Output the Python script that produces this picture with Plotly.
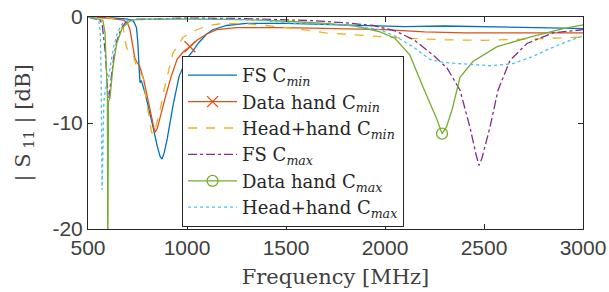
import numpy as np
import plotly.graph_objects as go

# ---- data (frequency in MHz, |S11| in dB) ----
fs_cmin_f = [500, 600, 700, 730, 745, 752, 758, 763, 768, 773, 790, 810, 830, 850, 865, 874, 885, 900, 930, 960,
             1000, 1030, 1060, 1100, 1130, 1200, 1300, 1500, 1700, 1900, 2100, 2300, 2500, 2700, 2900, 3000]
fs_cmin_db = [0, -0.05, -0.2, -0.4, -1.0, -2.5, -4.8, -6.2, -6.0, -6.2, -7.3, -8.8, -10.5, -12.2, -13.2, -13.4, -12.8,
              -11.5, -8.3, -5.6, -3.9, -3.2, -2.4, -1.6, -1.2, -0.8, -0.6, -0.6, -0.7, -0.8, -0.9, -0.85, -0.9, -1.0,
              -1.05, -1.1]

dh_cmin_f = [500, 600, 680, 700, 712, 725, 737, 745, 760, 780, 800, 820, 838, 850, 870, 890, 920, 950, 980, 1015,
             1050, 1100, 1150, 1250, 1500, 1800, 2000, 2200, 2400, 2600, 2800, 3000]
dh_cmin_db = [0, -0.1, -0.3, -0.6, -1.2, -2.5, -3.9, -4.2, -4.6, -5.8, -7.5, -9.5, -10.9, -10.5, -9.0, -7.6, -5.6,
              -4.0, -3.3, -2.8, -2.2, -1.6, -1.2, -1.0, -1.0, -1.1, -1.2, -1.4, -1.5, -1.5, -1.5, -1.5]
dh_cmin_marker_f = [1015]

hh_cmin_f = [500, 600, 660, 677, 690, 702, 715, 728, 745, 778, 803, 820, 828, 840, 864, 880, 899, 929, 960, 980,
             1050, 1100, 1180, 1300, 1400, 1550, 1700, 1900, 2100, 2300, 2500, 2700, 2900, 3000]
hh_cmin_db = [0, -0.05, -0.3, -0.9, -2.5, -3.3, -3.4, -3.6, -4.6, -5.7, -8.8, -10.8, -11.1, -10.5, -8.8, -7.2, -5.7,
              -3.4, -2.5, -1.9, -1.2, -0.85, -0.6, -0.65, -0.8, -1.1, -1.5, -1.75, -2.0, -2.15, -2.2, -2.1, -1.95, -1.9]

fs_cmax_f = [500, 560, 571, 586, 596, 601, 606, 612, 620, 630, 645, 665, 690, 720, 1000, 1300, 1500, 1640, 1800,
             1940, 2050, 2150, 2250, 2313, 2379, 2429, 2460, 2475, 2490, 2530, 2571, 2631, 2717, 2848, 3000]
fs_cmax_db = [0, -0.3, -0.6, -3.1, -5.7, -7.5, -7.6, -6.8, -5.3, -3.8, -2.3, -1.2, -0.5, -0.25, -0.1, -0.15, -0.25,
              -0.35, -0.55, -0.8, -1.3, -2.2, -3.7, -4.8, -6.9, -10.4, -13.0, -14.0, -13.3, -10.4, -6.9, -4.1, -2.5,
              -1.5, -1.2]

dh_cmax_f = [500, 575, 586, 595, 598, 600, 603, 611, 626, 645, 674, 710, 750, 1000, 1300, 1500, 1700, 1850, 1975,
             2050, 2126, 2192, 2263, 2288, 2310, 2338, 2379, 2444, 2566, 2732, 2900, 3000]
dh_cmax_db = [0, -0.3, -1.5, -6.2, -7.5, -25, -8.0, -7.6, -4.7, -2.5, -1.0, -0.4, -0.2, -0.2, -0.25, -0.4, -0.6,
              -0.85, -1.4, -2.0, -3.6, -6.6, -9.7, -11.0, -10.4, -8.8, -5.7, -4.2, -2.8, -1.9, -1.1, -0.75]
dh_cmax_marker_f = [2288]

hh_cmax_f = [500, 540, 555, 562, 566, 571, 576, 580, 588, 596, 606, 618, 632, 650, 675, 710, 800, 1200, 1400, 1556,
             1800, 1975, 2050, 2141, 2227, 2300, 2394, 2530, 2646, 2750, 2818, 2934, 3000]
hh_cmax_db = [0, -0.1, -0.4, -1.5, -5.0, -16.3, -12.0, -8.0, -6.8, -6.3, -5.5, -4.0, -2.6, -1.4, -0.6, -0.25, -0.15,
              -0.2, -0.35, -0.6, -0.75, -1.2, -1.8, -2.8, -4.0, -4.3, -4.45, -4.6, -4.4, -3.7, -3.1, -2.2, -1.8]

x_ticks = [500, 1000, 1500, 2000, 2500, 3000]
y_ticks = [0, -10, -20]

series = [
    ("FS C<sub><i>min</i></sub>", fs_cmin_f, fs_cmin_db, "#0072BD", "solid", None, None),
    ("Data hand C<sub><i>min</i></sub>", dh_cmin_f, dh_cmin_db, "#D95319", "solid", "x-thin", dh_cmin_marker_f),
    ("Head+hand C<sub><i>min</i></sub>", hh_cmin_f, hh_cmin_db, "#EDB120", "dash", None, None),
    ("FS C<sub><i>max</i></sub>", fs_cmax_f, fs_cmax_db, "#7E2F8E", "dashdot", None, None),
    ("Data hand C<sub><i>max</i></sub>", dh_cmax_f, dh_cmax_db, "#77AC30", "solid", "circle-open", dh_cmax_marker_f),
    ("Head+hand C<sub><i>max</i></sub>", hh_cmax_f, hh_cmax_db, "#4DBEEE", "dot", None, None),
]

fig = go.Figure()
for i, (name, f, db, col, dash, sym, mf) in enumerate(series):
    fig.add_trace(go.Scatter(x=f, y=db, mode="lines", line=dict(color=col, width=1.3, dash=dash),
                             showlegend=False, hoverinfo="skip"))
    if mf:
        fig.add_trace(go.Scatter(x=mf, y=np.interp(mf, f, db), mode="markers",
                                 marker=dict(symbol=sym, size=11, color=col, line=dict(color=col, width=1.3)),
                                 showlegend=False))
    fig.add_trace(go.Scatter(x=[None], y=[None], name=name, legendgroup=f"g{i}",
                             mode="lines+markers" if sym else "lines",
                             line=dict(color=col, width=1.3, dash=dash),
                             marker=dict(symbol=sym or "circle", size=11, color=col, line=dict(color=col, width=1.3))))

axis_common = dict(showline=True, linecolor="#262626", linewidth=1, mirror="ticks", ticks="inside",
                   ticklen=5, tickcolor="#262626", showgrid=False, zeroline=False, automargin=False,
                   ticklabeloverflow="allow",
                   tickfont=dict(family="Liberation Sans, Arial", size=21, color="#404040"))

fig.update_layout(
    width=609, height=292,
    margin=dict(l=88, r=26, t=17, b=63),
    paper_bgcolor="white", plot_bgcolor="white",
    xaxis=dict(range=[500, 3000], tickvals=x_ticks, ticktext=[str(v) for v in x_ticks],
               title=dict(text="Frequency [MHz]", font=dict(family="DejaVu Serif, serif", size=21, color="#404040"),
                          standoff=11), **axis_common),
    yaxis=dict(range=[-20, 0], tickvals=y_ticks, ticktext=[str(v) for v in y_ticks],
               title=dict(text="| S<sub> 11</sub> | [dB]", font=dict(family="DejaVu Serif, serif", size=21,
                                                                     color="#404040"), standoff=16),
               **axis_common),
    legend=dict(x=0.19, y=0.816, xanchor="left", yanchor="top", bgcolor="white", bordercolor="#262626",
                borderwidth=1, font=dict(family="DejaVu Serif, serif", size=18, color="#262626"),
                itemwidth=49, tracegroupgap=0, traceorder="grouped"),
)

fig.write_html("out.html", config={"displayModeBar": False},
               post_script="document.body.style.margin='0';document.body.style.overflow='hidden';")
